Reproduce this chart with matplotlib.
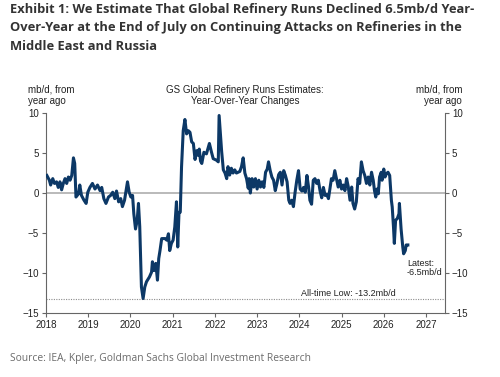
import numpy as np
import matplotlib.pyplot as plt

# ---------------------------------------------------------------------
# Data (decimal year, mb/d yoy)
# ---------------------------------------------------------------------
years = [
    2018.02, 2018.08, 2018.11, 2018.16, 2018.20, 2018.25, 2018.29, 2018.33,
    2018.37, 2018.41, 2018.45, 2018.49, 2018.53, 2018.57, 2018.61, 2018.65,
    2018.68, 2018.71, 2018.77, 2018.80, 2018.84, 2018.90, 2018.95, 2018.99,
    2019.04, 2019.10, 2019.16, 2019.22, 2019.28, 2019.32, 2019.37, 2019.42,
    2019.48, 2019.53, 2019.58, 2019.63, 2019.67, 2019.72, 2019.77, 2019.81,
    2019.86, 2019.93, 2019.97, 2020.01, 2020.05, 2020.08, 2020.12, 2020.16,
    2020.19, 2020.22, 2020.26, 2020.30, 2020.34, 2020.38, 2020.45, 2020.50,
    2020.52, 2020.56, 2020.60, 2020.64, 2020.67, 2020.70, 2020.74, 2020.82,
    2020.86, 2020.90, 2020.93, 2020.97, 2021.01, 2021.05, 2021.09, 2021.12,
    2021.15, 2021.18, 2021.21, 2021.25, 2021.29, 2021.33, 2021.37, 2021.41,
    2021.45, 2021.49, 2021.53, 2021.57, 2021.61, 2021.63, 2021.66, 2021.69,
    2021.74, 2021.80, 2021.87, 2021.92, 2021.96, 2022.04, 2022.08, 2022.10,
    2022.16, 2022.20, 2022.24, 2022.28, 2022.31, 2022.35, 2022.39, 2022.43,
    2022.47, 2022.51, 2022.59, 2022.63, 2022.67, 2022.71, 2022.75, 2022.79,
    2022.81, 2022.84, 2022.88, 2022.92, 2022.96, 2023.00, 2023.04, 2023.08,
    2023.12, 2023.16, 2023.20, 2023.24, 2023.27, 2023.31, 2023.35, 2023.39,
    2023.43, 2023.47, 2023.51, 2023.55, 2023.59, 2023.63, 2023.67, 2023.71,
    2023.75, 2023.78, 2023.82, 2023.86, 2023.90, 2023.94, 2023.98, 2024.02,
    2024.06, 2024.10, 2024.14, 2024.18, 2024.22, 2024.25, 2024.29, 2024.33,
    2024.37, 2024.41, 2024.45, 2024.49, 2024.53, 2024.57, 2024.61, 2024.65,
    2024.69, 2024.73, 2024.76, 2024.80, 2024.84, 2024.88, 2024.92, 2024.96,
    2025.00, 2025.04, 2025.08, 2025.12, 2025.16, 2025.20, 2025.24, 2025.27,
    2025.31, 2025.35, 2025.39, 2025.43, 2025.47, 2025.51, 2025.55, 2025.59,
    2025.63, 2025.67, 2025.71, 2025.75, 2025.78, 2025.81, 2025.84, 2025.87,
    2025.90, 2025.94, 2025.96, 2026.00, 2026.03, 2026.06, 2026.10, 2026.14,
    2026.18, 2026.20, 2026.23, 2026.25, 2026.28, 2026.32, 2026.36, 2026.37,
    2026.41, 2026.45, 2026.47, 2026.51, 2026.53, 2026.57,
]
runs_yoy = [
    2.2, 1.6, 1.0, 1.8, 1.2, 1.4, 0.7, 1.4,
    0.4, 1.2, 1.8, 1.2, 2.0, 1.6, 2.2, 4.4,
    3.7, -0.5, -0.1, 1.0, -0.3, -0.9, -1.3, 0.1,
    0.7, 1.2, 0.5, 1.0, 0.3, 0.7, -0.7, -1.3,
    -0.5, -0.3, 0.1, -0.7, 0.25, -1.1, -0.7, -1.7,
    -0.9, 1.4, 0.1, -0.5, -0.3, -2.6, -4.5, -3.4,
    -1.3, -4.2, -11.75, -13.2, -11.75, -11.1, -10.5, -9.9,
    -8.6, -9.7, -8.8, -10.9, -8.2, -7.2, -5.7, -5.7,
    -5.9, -5.1, -7.2, -6.3, -5.9, -4.25, -1.1, -6.75,
    -2.4, -2.4, 3.25, 7.8, 9.2, 7.4, 7.8, 7.6,
    6.4, 6.2, 4.2, 5.3, 4.7, 5.5, 4.0, 3.7,
    5.1, 4.9, 6.2, 5.1, 4.3, 4.1, 3.9, 9.7,
    5.2, 2.9, 2.5, 1.8, 3.3, 2.25, 3.1, 2.5,
    2.9, 2.5, 2.7, 3.3, 4.4, 2.5, 1.8, 0.6,
    1.8, 0.0, 1.8, 0.75, 1.8, 0.5, 1.6, 0.75,
    1.4, 0.7, 2.6, 3.0, 3.9, 2.8, 2.0, 1.6,
    0.3, 1.2, 2.3, 2.6, 1.0, 2.8, 2.2, 1.4,
    -0.9, -1.3, -0.9, -1.7, 0.1, 1.6, 2.8, 0.5,
    0.25, 0.7, 0.1, 2.2, 0.7, -0.9, -1.4, 1.6,
    1.8, 1.2, 1.6, 0.3, -0.6, 0.7, -0.3, -0.2,
    -0.7, 0.7, 1.8, 1.6, 2.8, 1.8, 0.75, 1.6,
    0.5, 1.0, 0.3, 1.8, 0.75, -0.9, 0.75, -1.3,
    -2.0, -1.1, 1.8, 1.2, 3.9, 2.8, 2.2, 1.2,
    2.0, 1.0, 2.6, 1.6, 0.3, -0.5, 0.5, -0.1,
    2.0, 2.6, 1.6, 3.0, 2.0, 2.4, 2.6, 2.2,
    -0.9, -1.75, -4.25, -6.3, -3.4, -3.2, -2.6, -1.3,
    -4.5, -6.75, -7.6, -7.2, -6.5, -6.5,
]
year_ticks = list(range(2018, 2028))
y_ticks = [-15, -10, -5, 0, 5, 10]
all_time_low = -13.2
latest = -6.5

line_col = "#0c3866"
axis_col = "#666666"
text_col = "#333333"
tick_font = "Liberation Sans"

fig = plt.figure(figsize=(5.0, 3.77), dpi=100)
ax = fig.add_axes([0.092, 0.170, 0.798, 0.530])

ax.axhline(0, color="#b4b4b4", lw=1.3, zorder=1)
ax.axhline(all_time_low, color="#8c8c8c", lw=0.8, ls=(0, (1, 1.2)), zorder=1)
ax.plot(years, runs_yoy, color=line_col, lw=2.2, zorder=3, solid_joinstyle="round")

ax.set_xlim(2018, 2027.45)
ax.set_ylim(-15, 10)
ax.set_xticks(year_ticks)
ax.set_xticklabels([str(y) for y in year_ticks])
ax.set_yticks(y_ticks)
ax.set_yticklabels(["\u221215", "\u221210", "\u22125", "0", "5", "10"])

for side in ["left", "bottom", "right"]:
    ax.spines[side].set_color(axis_col)
    ax.spines[side].set_linewidth(0.8)
ax.spines["top"].set_visible(False)
ax.tick_params(axis="both", direction="out", length=3, width=0.8, color=axis_col,
               labelsize=7, labelcolor="#222222", pad=2)
ax.tick_params(axis="y", right=True, labelright=True)
for lab in ax.get_xticklabels() + ax.get_yticklabels():
    lab.set_family(tick_font)

ax.text(2026.55, -9.35, "Latest:\n" + f"{latest}mb/d", fontsize=6.5, family=tick_font,
        color="#222222", ha="left", va="center", linespacing=1.0)
ax.text(2025.17, all_time_low + 0.1, f"All-time Low: {all_time_low}mb/d", fontsize=6.5,
        family=tick_font, color="#222222", ha="center", va="bottom")

# chart header texts
fig.text(0.49, 0.747, "GS Global Refinery Runs Estimates:\nYear-Over-Year Changes",
         fontsize=7, family=tick_font, color="#222222", ha="center", va="center",
         linespacing=1.1)
fig.text(0.056, 0.747, "mb/d, from\nyear ago", fontsize=7, family=tick_font,
         color="#222222", ha="left", va="center", linespacing=1.1)
fig.text(0.924, 0.747, "mb/d, from\nyear ago", fontsize=7, family=tick_font,
         color="#222222", ha="right", va="center", linespacing=1.1, multialignment="right")

fig.text(0.02, 0.993, "Exhibit 1: We Estimate That Global Refinery Runs Declined 6.5mb/d Year-\n"
         "Over-Year at the End of July on Continuing Attacks on Refineries in the\n"
         "Middle East and Russia",
         fontsize=9.3, family="Open Sans", weight="bold", color=text_col,
         ha="left", va="top", linespacing=1.58)
fig.text(0.02, 0.05, "Source: IEA, Kpler, Goldman Sachs Global Investment Research",
         fontsize=7.4, family="Open Sans", color="#6b6b6b", ha="left", va="center")

fig.savefig("out.png", dpi=100)
